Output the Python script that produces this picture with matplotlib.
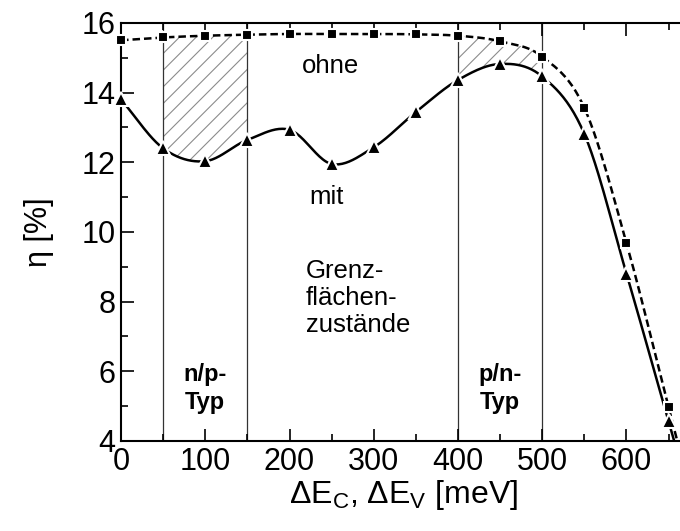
import numpy as np
import matplotlib
matplotlib.use("Agg")
import matplotlib.pyplot as plt

# data
offset_mev = [0, 50, 100, 150, 200, 250, 300, 350, 400, 450, 500, 550, 600, 650]
eta_ohne = [15.50, 15.58, 15.63, 15.66, 15.68, 15.68, 15.68, 15.67, 15.63,
            15.47, 15.03, 13.56, 9.68, 4.97]
eta_mit = [13.80, 12.40, 12.03, 12.64, 12.93, 11.95, 12.43, 13.44, 14.36,
           14.82, 14.46, 12.81, 8.80, 4.56]
band_edges = [50, 150, 400, 500]
hatched = [(50, 150), (400, 500)]


def smooth(x, y, n=24, extend=False):
    """Catmull-Rom curve through the points (drawing style only)."""
    p = np.column_stack([x, y]).astype(float)
    p = np.vstack([2 * p[0] - p[1], p, 2 * p[-1] - p[-2]])
    t = np.linspace(0, 1, n, endpoint=False)[:, None]
    out = []
    for i in range(1, len(p) - 2):
        p0, p1, p2, p3 = p[i - 1], p[i], p[i + 1], p[i + 2]
        seg = 0.5 * ((2 * p1) + (-p0 + p2) * t
                     + (2 * p0 - 5 * p1 + 4 * p2 - p3) * t ** 2
                     + (-p0 + 3 * p1 - 3 * p2 + p3) * t ** 3)
        out.append(seg)
    out.append(p[-2][None, :])
    if extend:
        # let the curve run on past the last point until the axis clips it
        out.append(p[-1][None, :])
    c = np.vstack(out)
    return c[:, 0], c[:, 1]


plt.rcParams["font.family"] = ["Liberation Sans", "DejaVu Sans"]
plt.rcParams["mathtext.fontset"] = "custom"
plt.rcParams["mathtext.rm"] = "Liberation Sans"
plt.rcParams["hatch.linewidth"] = 0.8

fig = plt.figure(figsize=(6.8, 5.31), dpi=100)
ax = fig.add_axes([0.178, 0.1695, 0.83, 0.7875])

xs, ys_o = smooth(offset_mev, eta_ohne)
_, ys_m = smooth(offset_mev, eta_mit)

for lo, hi in hatched:
    m = (xs >= lo - 1e-9) & (xs <= hi + 1e-9)
    ax.fill_between(xs[m], ys_m[m], ys_o[m], facecolor="none",
                    edgecolor="0.55", hatch="//", linewidth=0)

for xv in band_edges:
    ax.axvline(xv, color="0.2", lw=0.9, zorder=1)

xo, yo = smooth(offset_mev, eta_ohne, extend=True)
xm, ym = smooth(offset_mev, eta_mit, extend=True)
ax.plot(xo, yo, color="black", lw=1.8, ls=(0, (3, 1.6)), zorder=2)
ax.plot(xm, ym, color="black", lw=1.8, zorder=2)
ax.plot(offset_mev, eta_ohne, ls="none", marker="s", ms=7.5, color="black",
        mec="white", mew=1.5, zorder=3, clip_on=False)
ax.plot(offset_mev, eta_mit, ls="none", marker="^", ms=10.5, color="black",
        mec="white", mew=1.5, zorder=3, clip_on=False)

ax.text(249, 14.75, "ohne", fontsize=18.5, ha="center", va="center")
ax.text(244, 11.0, "mit", fontsize=18.5, ha="center", va="center")
ax.text(219, 8.1, "Grenz-\nflächen-\nzustände", fontsize=18.5, ha="left",
        va="center", linespacing=1.15)
ax.text(100, 5.5, "n/p-\nTyp", fontsize=17, fontweight="bold", ha="center",
        va="center", linespacing=1.25)
ax.text(450, 5.5, "p/n-\nTyp", fontsize=17, fontweight="bold", ha="center",
        va="center", linespacing=1.25)

ax.set_xlim(0, 670)
ax.set_ylim(4, 16)
ax.set_xticks(range(0, 700, 100))
ax.set_xticks(range(50, 700, 100), minor=True)
ax.set_yticks(range(4, 17, 2))
ax.set_yticks(range(5, 16, 2), minor=True)
ax.tick_params(which="both", direction="in", top=True, right=False,
               labelsize=22, width=1.2)
ax.tick_params(which="major", length=9, pad=4)
ax.tick_params(which="minor", length=5)
ax.spines["right"].set_visible(False)
for s in ("left", "bottom", "top"):
    ax.spines[s].set_linewidth(1.5)

ax.set_xlabel(r"ΔE$_\mathregular{C}$, ΔE$_\mathregular{V}$ [meV]", fontsize=23,
              labelpad=1)
ax.set_ylabel("η [%]", fontsize=22, labelpad=20)

fig.savefig("out.png", dpi=100)
